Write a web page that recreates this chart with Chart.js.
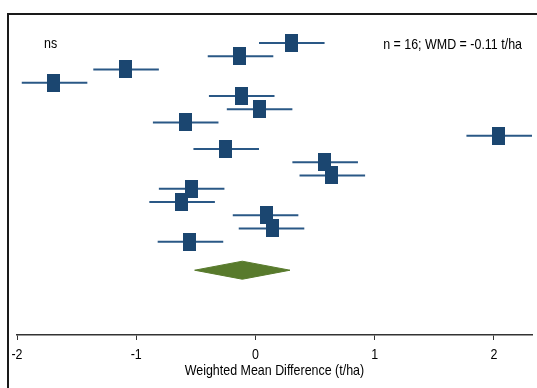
<!DOCTYPE html>
<html>
<head>
<meta charset="utf-8">
<script src="https://cdn.jsdelivr.net/npm/chart.js@4/dist/chart.umd.min.js"></script>
<style>
  html, body { margin: 0; padding: 0; background: #fff; }
  #wrap { width: 537px; height: 388px; position: relative; }
</style>
</head>
<body>
<div id="wrap"><canvas id="c" width="537" height="388"></canvas></div>
<script>
// Study-level effects (t/ha), top to bottom
const studyMean  = [0.30, -0.13, -1.09, -1.69, -0.12, 0.03, -0.59, 2.04, -0.25, 0.58, 0.64, -0.54, -0.62, 0.09, 0.14, -0.55];
const studyLower = [0.03, -0.40, -1.36, -1.96, -0.39, -0.24, -0.86, 1.77, -0.52, 0.31, 0.37, -0.81, -0.89, -0.19, -0.14, -0.82];
const studyUpper = [0.58, 0.15, -0.81, -1.41, 0.16, 0.31, -0.31, 2.32, 0.03, 0.86, 0.92, -0.26, -0.34, 0.36, 0.41, -0.27];

// Pooled weighted mean difference and its interval
const pooledMean  = -0.11;
const pooledLower = -0.51;
const pooledUpper = 0.29;

// Axis ticks and labels
const xTicks = [-2, -1, 0, 1, 2];
const xTickLabels = ['-2', '-1', '0', '1', '2'];
const xTitle = 'Weighted Mean Difference (t/ha)';
const leftNote = 'ns';
const rightNote = 'n = 16; WMD = -0.11 t/ha';

const FONT = "'Liberation Sans', Arial, sans-serif";
const TEXT_SCALE_X = 0.83;   // narrow lettering
const SQUARE = '#1b4670';
const CI_LINE = '#2a5886';
const DIAMOND = '#587a2c';

// Rectangular study marker
const marker = document.createElement('canvas');
marker.width = 13; marker.height = 18;
(function () {
  const m = marker.getContext('2d');
  m.fillStyle = SQUARE;
  m.fillRect(0, 0, 13, 18);
})();

const rows = studyMean.map((_, i) => i + 1);
const pooledRow = 18.15;
const diamondHalf = 0.68;

const datasets = [];
// study markers
datasets.push({
  type: 'scatter',
  data: studyMean.map((m, i) => ({ x: m, y: rows[i] })),
  pointStyle: marker,
  pointRadius: 9,
  order: 0
});
// confidence intervals
studyMean.forEach((m, i) => {
  datasets.push({
    type: 'line',
    data: [{ x: studyLower[i], y: rows[i] }, { x: studyUpper[i], y: rows[i] }],
    borderColor: CI_LINE,
    borderWidth: 2,
    pointRadius: 0,
    fill: false,
    order: 1
  });
});
// pooled diamond
datasets.push({
  type: 'line',
  data: [
    { x: pooledLower, y: pooledRow },
    { x: pooledMean, y: pooledRow - diamondHalf },
    { x: pooledUpper, y: pooledRow },
    { x: pooledMean, y: pooledRow + diamondHalf },
    { x: pooledLower, y: pooledRow }
  ],
  borderColor: DIAMOND,
  borderWidth: 1,
  backgroundColor: DIAMOND,
  pointRadius: 0,
  tension: 0,
  fill: 'shape',
  order: 2
});

function narrowText(ctx, text, x, y, align) {
  ctx.save();
  ctx.translate(x, y);
  ctx.scale(TEXT_SCALE_X, 1);
  ctx.textAlign = align;
  ctx.textBaseline = 'alphabetic';
  ctx.fillText(text, 0, 0);
  ctx.restore();
}

const textPlugin = {
  id: 'frameAndText',
  afterDraw(chart) {
    const ctx = chart.ctx;
    const xs = chart.scales.x;
    ctx.save();
    // outer frame
    ctx.strokeStyle = '#1a1a1a';
    ctx.lineWidth = 2;
    ctx.beginPath();
    ctx.moveTo(8, 388);
    ctx.lineTo(8, 14);
    ctx.lineTo(537, 14);
    ctx.stroke();
    // labels
    ctx.fillStyle = '#000';
    ctx.font = '15px ' + FONT;
    xTicks.forEach((v, i) => narrowText(ctx, xTickLabels[i], xs.getPixelForValue(v), 358.5, 'center'));
    narrowText(ctx, xTitle, (xs.getPixelForValue(-2) + xs.getPixelForValue(2)) / 2 + 19, 374.5, 'center');
    narrowText(ctx, leftNote, 44, 48, 'left');
    narrowText(ctx, rightNote, 522, 48.5, 'right');
    ctx.restore();
  }
};

new Chart(document.getElementById('c'), {
  type: 'scatter',
  data: { datasets },
  options: {
    responsive: false,
    animation: false,
    layout: { autoPadding: false, padding: { top: 15, left: 17, right: 5, bottom: 0 } },
    plugins: { legend: { display: false }, tooltip: { enabled: false } },
    scales: {
      x: {
        type: 'linear',
        position: 'bottom',
        min: -2,
        max: 2.32,
        afterBuildTicks: s => { s.ticks = xTicks.map(v => ({ value: v })); },
        afterFit: s => { s.height = 53; s.paddingLeft = 0; s.paddingRight = 0; },
        grid: { display: true, drawOnChartArea: false, drawTicks: true, tickLength: 5, tickColor: '#333', tickWidth: 1 },
        border: { display: true, color: '#333', width: 1.5 },
        ticks: { callback: () => '', padding: 0 },
        title: { display: false }
      },
      y: {
        type: 'linear',
        display: false,
        reverse: true,
        min: -1.113,
        max: 23.04
      }
    }
  },
  plugins: [textPlugin]
});
</script>
</body>
</html>
